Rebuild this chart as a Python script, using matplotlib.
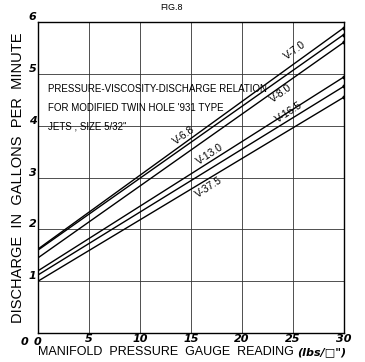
import matplotlib
matplotlib.use("Agg")
import matplotlib.pyplot as plt
import numpy as np

# manifold pressure (lbs/sq in) at the two ends of each line
pressure = [0, 30]

# discharge (gal/min) at 0 and 30 lbs for each viscosity
upper_lines = {
    "V-6.8": [1.62, 5.89],
    "V-7.0": [1.60, 5.76],
    "V-8.0": [1.45, 5.61],
}
lower_lines = {
    "V-13.0": [1.20, 4.94],
    "V-16.5": [1.12, 4.76],
    "V-37.5": [1.00, 4.55],
}

# label text, position (pressure, discharge), rotation
line_labels = [
    ("V-7.0", 25.2, 5.45, 36),
    ("V-8.0", 23.8, 4.62, 36),
    ("V-6.8", 14.3, 3.82, 36),
    ("V-13.0", 16.9, 3.44, 33),
    ("V-37.5", 16.8, 2.82, 33),
    ("V-16.5", 24.6, 4.26, 33),
]

x_ticks = [5, 10, 15, 20, 25, 30]
y_ticks = [1, 2, 3, 4, 5, 6]

font = "Liberation Sans"

fig = plt.figure(figsize=(3.65, 3.62), dpi=100)
ax = fig.add_axes([0.104, 0.080, 0.838, 0.859])

for name, vals in list(upper_lines.items()) + list(lower_lines.items()):
    ax.plot(pressure, vals, color="black", lw=1.0)
    ax.plot(pressure[-1], vals[-1], "o", color="black", ms=2)

for txt, x, y, rot in line_labels:
    ax.text(x, y, txt, rotation=rot, ha="center", va="center",
            fontsize=7.5, family=font, rotation_mode="anchor")

ax.set_xlim(0, 30)
ax.set_ylim(0, 6)
ax.set_xticks(x_ticks)
ax.set_yticks(y_ticks)
ax.grid(True, color="#333333", lw=0.6)
ax.tick_params(length=0, pad=1)
ax.set_xticklabels([str(t) for t in x_ticks], fontsize=8, style="italic",
                   fontweight="bold")
ax.set_yticklabels([str(t) for t in y_ticks], fontsize=8, style="italic",
                   fontweight="bold", va="bottom")
for s in ax.spines.values():
    s.set_linewidth(1.0)
    s.set_color("black")

# the two zeros sharing the corner
ax.text(-0.045, -0.012, "0", transform=ax.transAxes, ha="center", va="top",
        fontsize=8, style="italic", fontweight="bold")
ax.text(0.0, -0.012, "0", transform=ax.transAxes, ha="center", va="top",
        fontsize=8, style="italic", fontweight="bold")

ax.text(0.032, 0.775, "PRESSURE-VISCOSITY-DISCHARGE RELATION",
        transform=ax.transAxes, fontsize=7, family=font)
ax.text(0.032, 0.715, "FOR MODIFIED TWIN HOLE '931 TYPE",
        transform=ax.transAxes, fontsize=7, family=font)
ax.text(0.032, 0.655, "JETS , SIZE 5/32\"",
        transform=ax.transAxes, fontsize=7, family=font)

fig.text(0.47, 0.978, "FIG.8", ha="center", va="center", fontsize=6.5,
         family=font)

fig.text(0.05, 0.51, "DISCHARGE  IN  GALLONS  PER  MINUTE", rotation=90,
         ha="center", va="center", fontsize=10.5, family=font)
xlab = fig.text(0.105, 0.027, "MANIFOLD  PRESSURE  GAUGE  READING",
                ha="left", va="center", fontsize=9, family=font)
ax.annotate("(lbs/\u25a1\")", xy=(1, 0.5), xycoords=xlab,
            xytext=(2, 0), textcoords="offset points", ha="left", va="center",
            fontsize=8, style="italic", fontweight="bold")

fig.savefig("out.png", dpi=100, facecolor="white")
